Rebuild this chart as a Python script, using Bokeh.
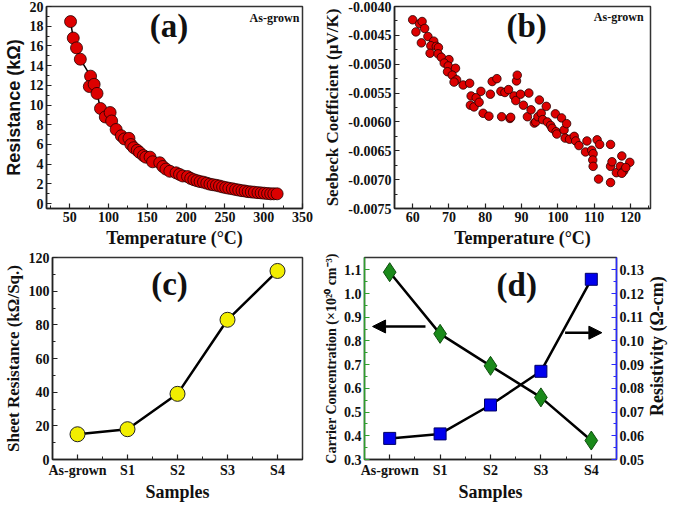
import math
from bokeh.plotting import figure
from bokeh.layouts import column, row
from bokeh.models import (Range1d, LinearAxis, FixedTicker, PrintfTickFormatter,
                          Label, Arrow, NormalHead)
from bokeh.embed import file_html
from bokeh.resources import INLINE

# ---------------- data ----------------
# (a) Resistance vs temperature
temp_a = [51, 54.5, 58.7, 63.6, 76.8, 75.2, 81.4, 85.1, 89.6, 95.8, 102, 104, 109.8,
          116.4, 120.5, 126.3, 128.8, 132.5, 137, 140, 145, 148, 153.5, 156.8, 166,
          170, 174, 179, 187, 191.5, 195.6, 201.8, 205.9, 210, 214, 218, 222.4,
          226.6, 230.7, 234.8, 239, 243, 247, 251, 255, 259.6, 263.7, 267.8, 272,
          276, 280, 284, 288, 292.6, 296.7, 300.8, 305, 309, 313, 317.3]
res_a = [18.47, 16.8, 15.8, 14.65, 12.93, 11.88, 12.1, 11.18, 9.65, 8.79, 9.24, 8.38,
         7.52, 6.88, 6.56, 6.62, 5.99, 5.67, 5.41, 5.19, 4.87, 4.71, 4.71, 4.24, 4.14,
         3.76, 3.50, 3.28, 3.12, 2.96, 2.80, 2.74, 2.55, 2.42, 2.32, 2.23, 2.17,
         2.07, 1.97, 1.91, 1.85, 1.78, 1.69, 1.62, 1.56, 1.50, 1.43, 1.37, 1.31,
         1.27, 1.21, 1.18, 1.15, 1.11, 1.08, 1.05, 1.02, 0.99, 0.99, 0.99]

# (b) Seebeck coefficient vs temperature
temp_b = [60.0, 61.9, 62.6, 60.9, 63.3, 62.4, 64.2, 65.8, 65.0, 66.5, 67.1, 64.8, 67.0,
          67.9, 70.0, 68.7, 69.8, 71.8, 69.6, 70.9, 72.1, 71.4, 73.9, 75.7, 76.1, 75.9,
          76.9, 77.5, 78.3, 78.8, 79.4, 81.0, 81.4, 81.9, 83.2, 84.3, 84.5, 85.4, 86.4,
          86.8, 87.0, 87.9, 88.6, 88.8, 88.4, 89.7, 90.5, 92.0, 91.6, 92.6, 93.5, 93.9,
          94.5, 94.9, 95.4, 95.8, 96.8, 97.1, 98.0, 98.4, 99.3, 99.5, 99.7, 101.0, 101.7,
          102.4, 102.0, 103.2, 104.5, 104.9, 105.8, 108.0, 107.6, 109.3, 109.7, 109.6,
          109.7, 110.8, 111.5, 111.2, 114.5, 114.5, 114.9, 114.5, 116.1, 117.6, 117.2,
          118.1, 117.6, 119.8, 118.7]
seebeck_b = [-0.00423, -0.00430, -0.00426, -0.00444, -0.00438, -0.00463, -0.00452,
             -0.00460, -0.00468, -0.00469, -0.00471, -0.00481, -0.00482, -0.00488,
             -0.00492, -0.00498, -0.00503, -0.00507, -0.00513, -0.00519, -0.00527,
             -0.00531, -0.00536, -0.00533, -0.00555, -0.00571, -0.00574, -0.00558,
             -0.00566, -0.00547, -0.00585, -0.00590, -0.00552, -0.00530, -0.00525,
             -0.00547, -0.00591, -0.00549, -0.00544, -0.00594, -0.00592, -0.00555,
             -0.00529, -0.00519, -0.00563, -0.00552, -0.00571, -0.00550, -0.00591,
             -0.00579, -0.00602, -0.00600, -0.00591, -0.00562, -0.00585, -0.00596,
             -0.00573, -0.00600, -0.00606, -0.00611, -0.00586, -0.00617, -0.00621,
             -0.00593, -0.00614, -0.00603, -0.00628, -0.00630, -0.00625, -0.00633,
             -0.00641, -0.00633, -0.00652, -0.00649, -0.00655, -0.00666, -0.00677,
             -0.00631, -0.00639, -0.00699, -0.00639, -0.00677, -0.00669, -0.00705,
             -0.00688, -0.00659, -0.00677, -0.00685, -0.00689, -0.00670, -0.00679]

# (c), (d) samples
samples = ["As-grown", "S1", "S2", "S3", "S4"]
sheet_res = [15, 18, 39, 83, 112]
carrier_conc = [1.09, 0.83, 0.695, 0.562, 0.38]
resistivity = [0.0589, 0.0608, 0.073, 0.0872, 0.126]

# ticks
ticks_a_x = [50, 100, 150, 200, 250, 300, 350]
minor_a_x = [25, 75, 125, 175, 225, 275, 325]
ticks_a_y = [0, 2, 4, 6, 8, 10, 12, 14, 16, 18, 20]
minor_a_y = [1, 3, 5, 7, 9, 11, 13, 15, 17, 19]
ticks_b_x = [60, 70, 80, 90, 100, 110, 120]
minor_b_x = [55, 65, 75, 85, 95, 105, 115, 125]
ticks_b_y = [-0.0075, -0.0070, -0.0065, -0.0060, -0.0055, -0.0050, -0.0045, -0.0040]
minor_b_y = [-0.00725, -0.00675, -0.00625, -0.00575, -0.00525, -0.00475, -0.00425]
ticks_c_y = [0, 20, 40, 60, 80, 100, 120]
minor_c_y = [10, 30, 50, 70, 90, 110]
ticks_d_l = [0.3, 0.4, 0.5, 0.6, 0.7, 0.8, 0.9, 1.0, 1.1]
minor_d_l = [0.35, 0.45, 0.55, 0.65, 0.75, 0.85, 0.95, 1.05]
ticks_d_r = [0.05, 0.06, 0.07, 0.08, 0.09, 0.10, 0.11, 0.12, 0.13]
minor_d_r = [0.055, 0.065, 0.075, 0.085, 0.095, 0.105, 0.115, 0.125]
sample_pos = [0, 1, 2, 3, 4]
sample_minor = [-0.5, 0.5, 1.5, 2.5, 3.5, 4.5]

SERIF = "Liberation Serif"
SANS = "Liberation Sans"
RED = "#dd0000"


def style_axis(ax, color="#222222", label_size="18px", font=SERIF):
    ax.axis_line_color = color
    ax.axis_line_width = 1.5
    ax.major_tick_line_color = color
    ax.minor_tick_line_color = color
    ax.major_tick_line_width = 1.2
    ax.minor_tick_line_width = 1.0
    ax.major_tick_in = 5
    ax.major_tick_out = 0
    ax.minor_tick_in = 3
    ax.minor_tick_out = 0
    ax.major_label_text_font = SERIF
    ax.major_label_text_font_style = "bold"
    ax.major_label_text_font_size = "14px"
    ax.major_label_text_color = "#111111"
    ax.major_label_standoff = 3
    ax.axis_label_text_font = font
    ax.axis_label_text_font_style = "bold"
    ax.axis_label_text_font_size = label_size
    ax.axis_label_text_color = "#111111"
    ax.axis_label_standoff = 3


def base_fig(w, h, xr, yr, bl, br, bt, bb):
    p = figure(width=w, height=h, x_range=Range1d(*xr), y_range=Range1d(*yr),
               output_backend="svg", toolbar_location=None,
               min_border_left=bl, min_border_right=br,
               min_border_top=bt, min_border_bottom=bb)
    p.xgrid.visible = False
    p.ygrid.visible = False
    p.outline_line_color = "#333333"
    p.outline_line_width = 1.5
    p.background_fill_color = "white"
    p.border_fill_color = "white"
    return p


def add_text(p, x, y, txt, size, align="center", font=SERIF, y_range_name="default",
             angle=0.0):
    p.add_layout(Label(x=x, y=y, text=txt, text_font=font, text_font_style="bold",
                       text_font_size=size, text_align=align, text_baseline="middle",
                       text_color="#111111", y_range_name=y_range_name, angle=angle))


# ---------------- (a) ----------------
pa = base_fig(320, 250, (20, 350), (-0.5, 20), 40, 18, 6, 35)
pa.line(temp_a, res_a, line_color="black", line_width=1.5)
pa.scatter(temp_a, res_a, size=12, fill_color=RED, line_color="#220000", line_width=0.8)
style_axis(pa.xaxis[0])
style_axis(pa.yaxis[0], font=SANS)
pa.xaxis[0].ticker = FixedTicker(ticks=ticks_a_x, minor_ticks=minor_a_x)
pa.yaxis[0].ticker = FixedTicker(ticks=ticks_a_y, minor_ticks=minor_a_y)
pa.xaxis[0].axis_label = "Temperature (°C)"
pa.yaxis[0].axis_label = "Resistance (kΩ)"
add_text(pa, 178, 18.05, "(a)", "33px")
add_text(pa, 346, 18.85, "As-grown", "12px", align="right")

# ---------------- (b) ----------------
pb = base_fig(349, 250, (55, 125.5), (-0.0075, -0.0040), 66, 19, 6, 35)
pb.scatter(temp_b, seebeck_b, size=8.5, fill_color=RED, line_color="#220000", line_width=0.8)
style_axis(pb.xaxis[0])
style_axis(pb.yaxis[0], label_size="17px")
pb.xaxis[0].ticker = FixedTicker(ticks=ticks_b_x, minor_ticks=minor_b_x)
pb.yaxis[0].ticker = FixedTicker(ticks=ticks_b_y, minor_ticks=minor_b_y)
pb.yaxis[0].formatter = PrintfTickFormatter(format="%.4f")
pb.xaxis[0].axis_label = "Temperature (°C)"
pb.yaxis[0].axis_label = "Seebeck Coefficient (µV/K)"
add_text(pb, 91.4, -0.00433, "(b)", "33px")
add_text(pb, 123.6, -0.00418, "As-grown", "12px", align="right")

# ---------------- (c) ----------------
pc = base_fig(320, 254, (-0.5, 4.5), (0, 120), 40, 18, 7, 38)
pc.line(sample_pos, sheet_res, line_color="black", line_width=2.5)
pc.scatter(sample_pos, sheet_res, size=15, fill_color="#f2ee00", line_color="#222222", line_width=1)
style_axis(pc.xaxis[0])
style_axis(pc.yaxis[0], label_size="17px")
pc.xaxis[0].ticker = FixedTicker(ticks=sample_pos, minor_ticks=sample_minor)
pc.xaxis[0].major_label_overrides = {i: s for i, s in zip(sample_pos, samples)}
pc.yaxis[0].ticker = FixedTicker(ticks=ticks_c_y, minor_ticks=minor_c_y)
pc.xaxis[0].axis_label = "Samples"
pc.yaxis[0].axis_label = "Sheet Resistance (kΩ/Sq.)"
pc.xaxis[0].axis_label_standoff = 1
add_text(pc, 1.84, 104.2, "(c)", "33px")

# ---------------- (d) ----------------
pd_ = base_fig(327, 254, (-0.5, 4.5), (0.3, 1.152), 40, 28, 7, 38)
pd_.extra_y_ranges = {"res": Range1d(0.05, 0.1352)}
raxis = LinearAxis(y_range_name="res")
pd_.add_layout(raxis, "right")
pd_.line(sample_pos, carrier_conc, line_color="black", line_width=2.5)
pd_.line(sample_pos, resistivity, line_color="black", line_width=2.5, y_range_name="res")
pd_.scatter(sample_pos, carrier_conc, marker="diamond", size=19, fill_color="#1a8a1a",
            line_color="#0d4d0d", line_width=1)
pd_.scatter(sample_pos, resistivity, marker="square", size=12, fill_color="#0000ee",
            line_color="#000066", line_width=1, y_range_name="res")
style_axis(pd_.xaxis[0])
style_axis(pd_.yaxis[0], color="#2e9e2e", label_size="14px")
style_axis(raxis, color="#2a2aff", label_size="18px")
pd_.xaxis[0].ticker = FixedTicker(ticks=sample_pos, minor_ticks=sample_minor)
pd_.xaxis[0].major_label_overrides = {i: s for i, s in zip(sample_pos, samples)}
pd_.yaxis[0].ticker = FixedTicker(ticks=ticks_d_l, minor_ticks=minor_d_l)
pd_.yaxis[0].formatter = PrintfTickFormatter(format="%.1f")
raxis.ticker = FixedTicker(ticks=ticks_d_r, minor_ticks=minor_d_r)
raxis.formatter = PrintfTickFormatter(format="%.2f")
pd_.xaxis[0].axis_label = "Samples"
pd_.xaxis[0].axis_label_standoff = 1
pd_.yaxis[0].axis_label = "Carrier Concentration (×10²⁰ cm⁻³)"
pd_.yaxis[0].axis_label_standoff = 2
pd_.add_layout(Arrow(end=NormalHead(size=13, fill_color="black", line_color="black"),
                     x_start=0.71, y_start=0.861, x_end=-0.34, y_end=0.861,
                     line_width=2.5, line_color="black"))
pd_.add_layout(Arrow(end=NormalHead(size=13, fill_color="black", line_color="black"),
                     x_start=3.48, y_start=0.1035, x_end=4.21, y_end=0.1035,
                     line_width=2.5, line_color="black", y_range_name="res"))
add_text(pd_, 2.52, 1.035, "(d)", "33px")

# right-hand axis title of (d), reading bottom-to-top as in the reference
pt = figure(width=22, height=254, x_range=Range1d(0, 1), y_range=Range1d(0, 254),
            output_backend="svg", toolbar_location=None, min_border=0,
            x_axis_location=None, y_axis_location=None)
pt.xgrid.visible = False
pt.ygrid.visible = False
pt.outline_line_color = None
add_text(pt, 0.45, 254 - (7 + 216) / 2, "Resistivity (Ω-cm)", "18px", angle=math.pi / 2)

layout = column(row(pa, pb), row(pc, pd_, pt))
with open("out.html", "w") as f:
    f.write(file_html(layout, INLINE))
